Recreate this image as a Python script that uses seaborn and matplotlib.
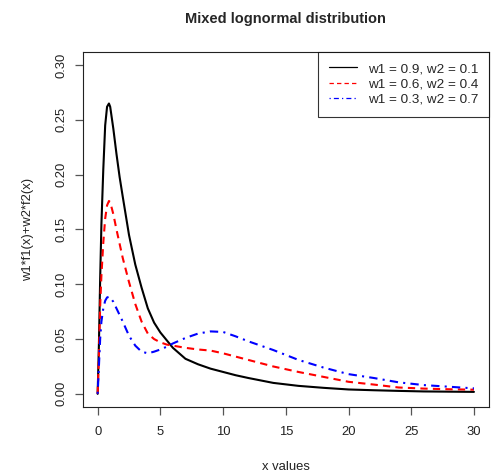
import matplotlib
matplotlib.use("Agg")
import matplotlib.pyplot as plt
import seaborn as sns
import pandas as pd

x_vals = [0, 0.1, 0.2, 0.3, 0.45, 0.6, 0.75, 0.9, 1.0, 1.25, 1.5, 1.75, 2.0, 2.5, 3.0,
          3.5, 4.0, 4.5, 5.0, 5.5, 6, 7, 8, 9, 10, 11, 12, 14, 16, 18, 20, 22, 24,
          26, 28, 30]
black_vals = [0, 0.045, 0.105, 0.155, 0.205, 0.245, 0.262, 0.265, 0.262, 0.242, 0.219,
              0.198, 0.180, 0.145, 0.118, 0.097, 0.078, 0.065, 0.056, 0.049, 0.042,
              0.032, 0.027, 0.023, 0.020, 0.017, 0.0145, 0.010, 0.0073, 0.0055,
              0.0040, 0.0033, 0.0027, 0.0022, 0.0020, 0.0018]
red_vals = [0, 0.035, 0.08, 0.108, 0.138, 0.160, 0.172, 0.176, 0.175, 0.164, 0.150,
            0.137, 0.124, 0.102, 0.082, 0.066, 0.055, 0.050, 0.047, 0.045, 0.044,
            0.042, 0.0405, 0.0395, 0.037, 0.034, 0.031, 0.025, 0.020, 0.0155, 0.011,
            0.0085, 0.0058, 0.0048, 0.0042, 0.0038]
blue_vals = [0, 0.025, 0.05, 0.066, 0.078, 0.085, 0.088, 0.0885, 0.088, 0.084, 0.078,
             0.072, 0.066, 0.053, 0.044, 0.0385, 0.037, 0.0385, 0.0405, 0.043, 0.046,
             0.051, 0.055, 0.057, 0.0565, 0.0525, 0.048, 0.040, 0.031, 0.024, 0.018,
             0.0145, 0.0105, 0.008, 0.0065, 0.005]
labels = ["w1 = 0.9, w2 = 0.1", "w1 = 0.6, w2 = 0.4", "w1 = 0.3, w2 = 0.7"]
x_ticks = [0, 5, 10, 15, 20, 25, 30]
y_ticks = [0.00, 0.05, 0.10, 0.15, 0.20, 0.25, 0.30]

sns.set_style("white")
plt.rcParams['font.family'] = ['Liberation Sans', 'DejaVu Sans']

fig = plt.figure(figsize=(4.94, 4.73), dpi=100)
ax = fig.add_axes([82.6 / 494, (473 - 407) / 473, (489 - 82.6) / 494, (407 - 52) / 473])

styles = [("black", "-"), ("red", (0, (3.5, 2.5))), ("blue", (0, (1, 2.5, 4, 2.5)))]
for vals, lab, (col, ls) in zip([black_vals, red_vals, blue_vals], labels, styles):
    df = pd.DataFrame({"x": x_vals, "y": vals})
    sns.lineplot(data=df, x="x", y="y", ax=ax, color=col, linestyle=ls,
                 linewidth=1.5, label=lab)

ax.set_xlim(-1.2, 31.2)
ax.set_ylim(-0.012, 0.312)
ax.set_xticks(x_ticks)
ax.set_xticklabels([str(t) for t in x_ticks])
ax.set_yticks(y_ticks)
ax.set_yticklabels([f"{t:.2f}" for t in y_ticks], rotation=90, va="center")
ax.tick_params(axis="both", direction="out", length=6, width=0.9, color="#555555",
               labelsize=9.4, labelcolor="#222222", bottom=True, left=True)
ax.tick_params(axis="x", pad=8)
ax.tick_params(axis="y", pad=5)
for s in ax.spines.values():
    s.set_color("#222222")
    s.set_linewidth(0.8)

ax.set_xlabel("x values", fontsize=9.4, color="#222222", labelpad=16)
ax.set_ylabel("w1*f1(x)+w2*f2(x)", fontsize=9.4, color="#222222", labelpad=15)
ax.set_title("Mixed lognormal distribution", fontsize=10.5, fontweight="bold", pad=21)

leg = ax.legend(loc="upper right", frameon=True, fancybox=False, shadow=False,
                fontsize=9.7, borderaxespad=0, handlelength=2.1, labelspacing=0.22,
                borderpad=0.8, handletextpad=0.8)
leg.get_frame().set_edgecolor("black")
leg.get_frame().set_linewidth(0.8)
for h in leg.get_lines():
    h.set_linewidth(0.9)

fig.savefig("out.png", dpi=100)
